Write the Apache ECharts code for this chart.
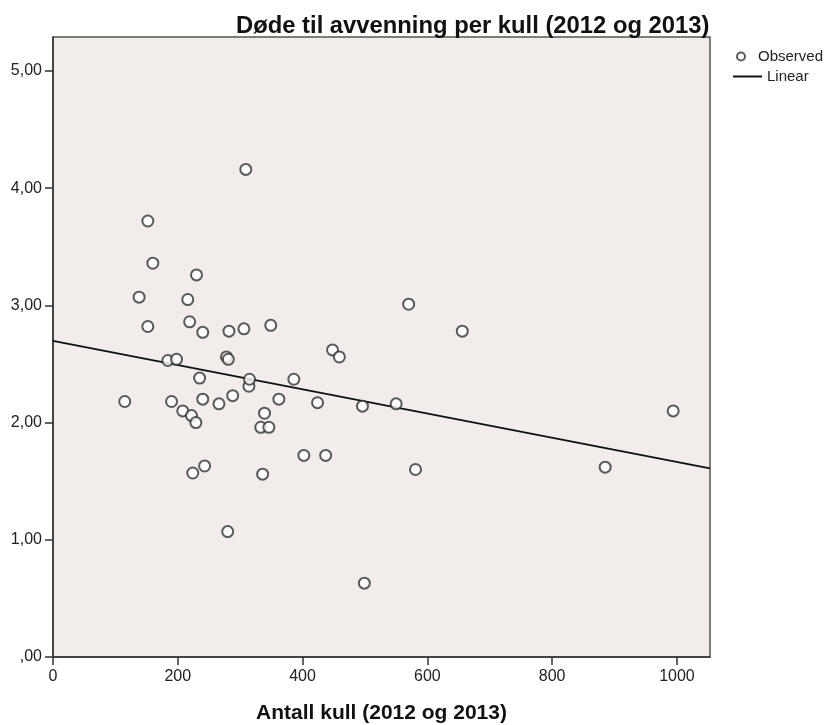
<!DOCTYPE html>
<html>
<head>
<meta charset="utf-8">
<script src="https://cdn.jsdelivr.net/npm/echarts@6/dist/echarts.min.js"></script>
<style>
  html, body { margin: 0; padding: 0; background: #ffffff; }
  #chart { width: 834px; height: 725px; }
</style>
</head>
<body>
<div id="chart"></div>
<script>
// Antall kull (x) og døde til avvenning per kull (y), ett punkt per besetning
const litterCount = [
  115, 138, 152, 152, 160, 184, 198, 190, 208, 216,
  219, 222, 224, 229, 230, 235, 240, 240, 243, 266,
  278, 282, 281, 280, 288, 306, 309, 314, 315, 333,
  336, 339, 346, 349, 362, 386, 402, 424, 437, 448,
  459, 496, 499, 550, 570, 581, 656, 885, 994
];
const deathsPerLitter = [
  2.18, 3.07, 3.72, 2.82, 3.36, 2.53, 2.54, 2.18, 2.10, 3.05,
  2.86, 2.06, 1.57, 2.00, 3.26, 2.38, 2.77, 2.20, 1.63, 2.16,
  2.56, 2.78, 2.54, 1.07, 2.23, 2.80, 4.16, 2.31, 2.37, 1.96,
  1.56, 2.08, 1.96, 2.83, 2.20, 2.37, 1.72, 2.17, 1.72, 2.62,
  2.56, 2.14, 0.63, 2.16, 3.01, 1.60, 2.78, 1.62, 2.10
];
const xTicks = [0, 200, 400, 600, 800, 1000];
const yTicks = [0, 1, 2, 3, 4, 5];
const xRange = [0, 1053];
const yRange = [0, 5.29];

// Lineær regresjon (minste kvadraters metode)
const n = litterCount.length;
const mx = litterCount.reduce((s, v) => s + v, 0) / n;
const my = deathsPerLitter.reduce((s, v) => s + v, 0) / n;
let sxy = 0, sxx = 0;
for (let i = 0; i < n; i++) {
  sxy += (litterCount[i] - mx) * (deathsPerLitter[i] - my);
  sxx += (litterCount[i] - mx) * (litterCount[i] - mx);
}
const slope = sxy / sxx;
const intercept = my - slope * mx;
const fitLine = [[xRange[0], intercept + slope * xRange[0]], [xRange[1], intercept + slope * xRange[1]]];

const points = litterCount.map((x, i) => [x, deathsPerLitter[i]]);
const font = 'Liberation Sans, Arial, sans-serif';

const chart = echarts.init(document.getElementById('chart'), null, { renderer: 'canvas' });
chart.setOption({
  animation: false,
  backgroundColor: '#ffffff',
  title: {
    text: 'Døde til avvenning per kull (2012 og 2013)',
    left: 231,
    top: 9,
    textStyle: { fontFamily: font, fontSize: 23.8, fontWeight: 'bold', color: '#111' }
  },
  legend: [
    {
      data: [{ name: 'Observed', icon: 'emptyCircle' }],
      left: 731, top: 44,
      itemWidth: 24, itemHeight: 8,
      textStyle: { fontFamily: font, fontSize: 15, color: '#222' }
    },
    {
      data: [{ name: 'Linear', icon: 'rect' }],
      left: 728, top: 64,
      itemWidth: 29, itemHeight: 2,
      textStyle: { fontFamily: font, fontSize: 15, color: '#222' }
    }
  ],
  grid: {
    left: 53, right: 124, top: 37, bottom: 68,
    outerBoundsMode: 'none',
    containLabel: false,
    show: true,
    backgroundColor: '#F2EDEA',
    borderColor: '#555',
    borderWidth: 1.5
  },
  xAxis: {
    type: 'value',
    min: xRange[0], max: xRange[1],
    name: 'Antall kull (2012 og 2013)',
    nameLocation: 'middle',
    nameGap: 46,
    nameTextStyle: { fontFamily: font, fontSize: 21, fontWeight: 'bold', color: '#111' },
    axisLine: { show: true, lineStyle: { color: '#333', width: 1.5 } },
    axisTick: { show: true, length: 8, customValues: xTicks, lineStyle: { color: '#333', width: 1.5 } },
    axisLabel: {
      customValues: xTicks, margin: 12, fontFamily: font, fontSize: 16, color: '#222',
      formatter: v => String(v)
    },
    splitLine: { show: false }
  },
  yAxis: {
    type: 'value',
    min: yRange[0], max: yRange[1],
    axisLine: { show: true, lineStyle: { color: '#333', width: 1.5 } },
    axisTick: { show: true, length: 8, customValues: yTicks, lineStyle: { color: '#333', width: 1.5 } },
    axisLabel: {
      customValues: yTicks, margin: 11, fontFamily: font, fontSize: 16, color: '#222',
      formatter: v => v.toFixed(2).replace('.', ',').replace(/^0/, '')
    },
    splitLine: { show: false }
  },
  series: [
    {
      name: 'Observed',
      type: 'scatter',
      data: points,
      symbol: 'emptyCircle',
      symbolSize: 11,
      itemStyle: { color: '#333', borderColor: '#333', borderWidth: 1.4 },
      z: 3
    },
    {
      name: 'Linear',
      type: 'line',
      data: fitLine,
      symbol: 'none',
      lineStyle: { color: '#111', width: 1.8 },
      itemStyle: { color: '#111' },
      z: 2
    }
  ]
});
</script>
</body>
</html>
